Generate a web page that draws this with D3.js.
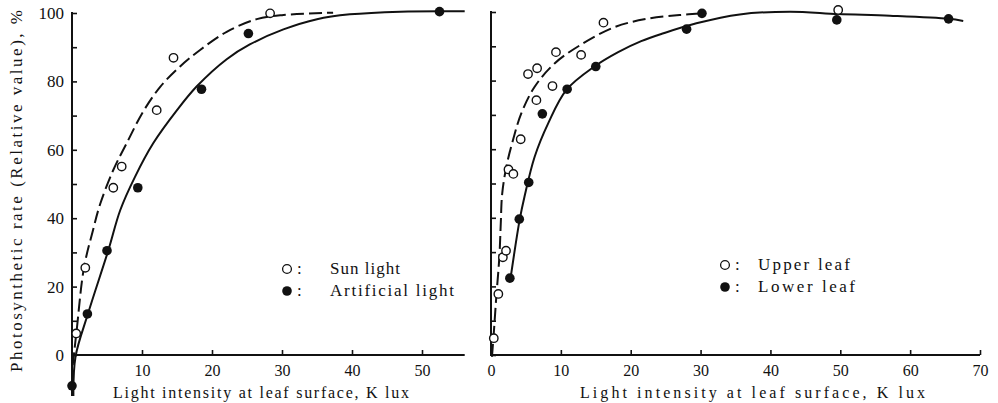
<!DOCTYPE html>
<html>
<head>
<meta charset="utf-8">
<script src="https://cdn.jsdelivr.net/npm/d3@7.9.0/dist/d3.min.js"></script>
<style>
  body { margin: 0; background: #fff; }
  text { font-family: "Liberation Serif", "DejaVu Serif", serif; fill: #111; }
</style>
</head>
<body>
<div class="container"></div>
<script>
const width = 998, height = 403;

// left panel: sun light vs artificial light  [K lux, %]
const sunLight = [[0.6, 6.3], [1.9, 25.5], [5.9, 48.9], [7.1, 55.1], [12.1, 71.6], [14.5, 86.9], [28.3, 99.9]];
const artificialLight = [[0.0, -9], [2.2, 12], [5.0, 30.5], [9.4, 48.9], [18.5, 77.7], [25.2, 94.0], [52.5, 100.4]];
// fitted curves as drawn in the figure
const sunCurve = [[0.1, -3], [0.67, 7.3], [1.7, 25.4], [3.0, 36.5], [4.0, 44], [5.9, 54.1], [7.8, 61.9],
  [10.2, 71.3], [12.6, 78.4], [15.4, 84.3], [18.3, 89.2], [22.1, 94.5], [26.4, 98.2], [30.2, 99.4], [37.3, 100.1]];
const artificialCurve = [[0.2, -12], [0.5, -0.5], [2.3, 12.2], [5.2, 30.7], [6.9, 42.4], [9, 52.1], [11.6, 61.9],
  [15, 71.6], [17.8, 78.5], [22.1, 86.5], [25.4, 90.8], [30.2, 95.2], [35, 98.2], [39.7, 99.6],
  [46.9, 100.4], [56.1, 100.5]];

// right panel: upper leaf vs lower leaf
const upperLeaf = [[0.4, 4.9], [1.05, 17.8], [1.7, 28.5], [2.15, 30.4], [2.5, 54.1], [3.2, 52.8], [4.25, 62.9],
  [5.3, 81.9], [6.6, 83.6], [6.5, 74.3], [8.8, 78.4], [9.3, 88.3], [12.9, 87.5], [16.1, 96.9], [49.7, 100.6]];
const lowerLeaf = [[2.7, 22.4], [4.05, 39.6], [5.4, 50.3], [7.35, 70.3], [10.9, 77.5], [15, 84.1], [28, 95],
  [30.2, 99.6], [49.5, 97.7], [65.5, 98]];
const upperCurve = [[0.14, -0.5], [0.43, 7.3], [0.76, 17], [1.2, 28.7], [1.4, 38.4], [1.6, 47], [2.2, 54.9],
  [3.15, 62.7], [4.35, 70.5], [6.25, 78.2], [9.1, 85], [12.9, 90.5], [17.7, 95.6], [22.3, 98], [27, 99.1],
  [30.4, 99.6]];
const lowerCurve = [[2.8, 22.4], [4.1, 39.4], [4.8, 46.2], [6.25, 57.8], [8.2, 67.6], [10.8, 77.3],
  [14.8, 84.1], [18.2, 88.3], [21.5, 91.5], [24.7, 93.8], [29.4, 96.7], [35.6, 99.3], [42.8, 100.1], [49.7, 99.4],
  [57.1, 98.9], [65.5, 98], [67.6, 97.4]];

const yTicks = [0, 10, 20, 30, 40, 50, 60, 70, 80, 90, 100];
const xTicksLeft = [10, 20, 30, 40, 50];
const xTicksRight = [0, 10, 20, 30, 40, 50, 60, 70];
const xTitle = "Light intensity at leaf surface, K lux";
const yTitle = "Photosynthetic rate  (Relative value), %";

const svg = d3.select(".container").append("svg")
  .attr("width", width).attr("height", height);

function drawPanel(p) {
  const x = d3.scaleLinear().domain(p.xDomain).range(p.xRange);
  const y = d3.scaleLinear().domain([0, 100]).range(p.yRange);
  const g = svg.append("g");

  // x axis
  const xa = g.append("g").attr("transform", `translate(0,${y(0)})`)
    .call(d3.axisBottom(x).tickValues(p.xTicks).tickSizeInner(-5).tickSizeOuter(0).tickPadding(10).tickFormat(d3.format("d")));
  xa.select(".domain").remove();
  xa.selectAll("line").attr("stroke", "#111").attr("stroke-width", 1.6);
  xa.selectAll("text").attr("font-size", 16).attr("font-family", "Liberation Serif").attr("fill", "#111");
  g.append("line").attr("x1", x(p.xDomain[0]) - 1).attr("x2", x(p.xEnd))
    .attr("y1", y(0)).attr("y2", y(0)).attr("stroke", "#111").attr("stroke-width", 2);

  // y axis
  const ya = g.append("g").attr("transform", `translate(${x(0)},0)`)
    .call(d3.axisLeft(y).tickValues(yTicks).tickSizeInner(-5).tickSizeOuter(0).tickPadding(8)
      .tickFormat(d => p.yLabels && d % 20 === 0 ? d : ""));
  ya.select(".domain").remove();
  ya.selectAll("line").attr("stroke", "#111").attr("stroke-width", 1.6);
  ya.selectAll("text").attr("font-size", 17).attr("font-family", "Liberation Serif").attr("fill", "#111");
  g.append("line").attr("x1", x(0)).attr("x2", x(0))
    .attr("y1", y(100) - 1).attr("y2", y(p.yBottom)).attr("stroke", "#111").attr("stroke-width", 2);

  // curves
  const line = d3.line().x(d => x(d[0])).y(d => y(d[1])).curve(d3.curveCatmullRom.alpha(0.5));
  g.append("path").datum(p.dashCurve).attr("d", line).attr("fill", "none")
    .attr("stroke", "#111").attr("stroke-width", 2).attr("stroke-dasharray", "13,5");
  g.append("path").datum(p.solidCurve).attr("d", line).attr("fill", "none")
    .attr("stroke", "#111").attr("stroke-width", 2);

  // points
  g.selectAll(".open").data(p.openPts).join("circle")
    .attr("cx", d => x(d[0])).attr("cy", d => y(d[1])).attr("r", 4.2)
    .attr("fill", "#fff").attr("stroke", "#111").attr("stroke-width", 1.4);
  g.selectAll(".filled").data(p.filledPts).join("circle")
    .attr("cx", d => x(d[0])).attr("cy", d => y(d[1])).attr("r", 4.8)
    .attr("fill", "#111");

  // x title
  g.append("text").attr("x", p.xTitleX).attr("y", 398).attr("font-size", 16)
    .attr("textLength", p.xTitleLen).attr("lengthAdjust", "spacing").text(xTitle);

  // legend
  p.legend.forEach((it, i) => {
    const ly = p.legendY + i * 22;
    g.append("circle").attr("cx", p.legendX).attr("cy", ly).attr("r", it.filled ? 4.8 : 4.4)
      .attr("fill", it.filled ? "#111" : "#fff").attr("stroke", "#111").attr("stroke-width", it.filled ? 0 : 1.3);
    g.append("text").attr("x", p.legendX + 10).attr("y", ly + 5).attr("font-size", 17).text(":");
    g.append("text").attr("x", p.legendX + p.textOffset).attr("y", ly + 5).attr("font-size", 17)
      .attr("textLength", it.len).attr("lengthAdjust", "spacing").text(it.label);
  });
}

drawPanel({
  xDomain: [0, 50], xRange: [72, 422], xEnd: 56.1, yRange: [355, 13], yBottom: -12,
  xTicks: xTicksLeft, yLabels: true,
  dashCurve: sunCurve, solidCurve: artificialCurve,
  openPts: sunLight, filledPts: artificialLight,
  xTitleX: 113, xTitleLen: 296,
  legendX: 287, legendY: 269, textOffset: 43,
  legend: [{ label: "Sun light", filled: false, len: 70 }, { label: "Artificial light", filled: true, len: 124 }]
});

drawPanel({
  xDomain: [0, 70], xRange: [491, 980], xEnd: 70, yRange: [355, 12], yBottom: 0,
  xTicks: xTicksRight, yLabels: false,
  dashCurve: upperCurve, solidCurve: lowerCurve,
  openPts: upperLeaf, filledPts: lowerLeaf,
  xTitleX: 580, xTitleLen: 345,
  legendX: 725, legendY: 265, textOffset: 33,
  legend: [{ label: "Upper leaf", filled: false, len: 92 }, { label: "Lower leaf", filled: true, len: 97 }]
});

// y title
svg.append("text").attr("transform", "translate(22,372) rotate(-90)").attr("font-size", 17)
  .attr("textLength", 362).attr("lengthAdjust", "spacing").text(yTitle);
</script>
</body>
</html>
